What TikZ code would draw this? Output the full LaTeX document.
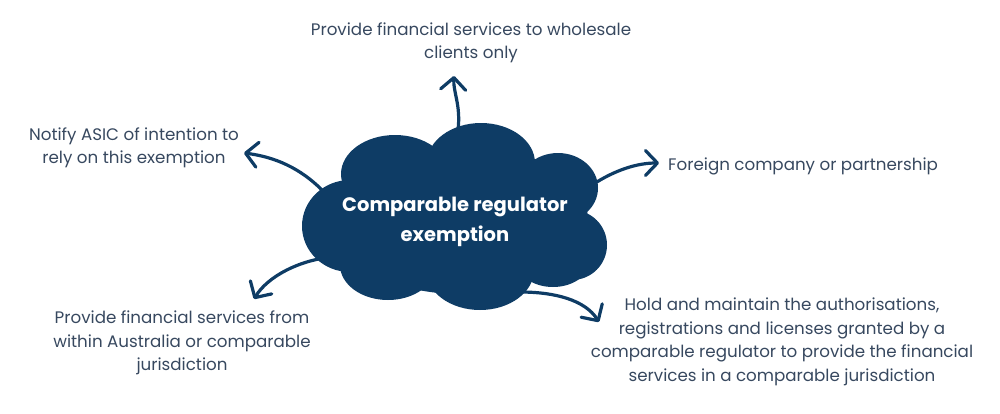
\documentclass[tikz,border=0pt]{standalone}
\usepackage{fontspec}
\setmainfont{Poppins}
\usetikzlibrary{arrows.meta}
\definecolor{navy}{RGB}{14,60,101}
\definecolor{txt}{RGB}{55,72,95}
\tikzset{
  lbl/.style={text=txt, align=center, font=\fontsize{16.7}{23.5}\selectfont, inner sep=0pt},
  arr/.style={draw=navy, line width=3.2pt, line cap=round,
    -{Straight Barb[length=12pt,width=25pt,round]}},
  lobe/.style={fill=navy}
}
\begin{document}
\begin{tikzpicture}[x=1pt,y=-1pt]
\useasboundingbox (0,0) rectangle (1000,413);
% arrow coordinates
\coordinate (s1) at (458,130);
\coordinate (e1) at (454,76);
\coordinate (s2) at (322,190);
\coordinate (e2) at (244,153);
\coordinate (s3) at (592,185);
\coordinate (e3) at (659,163);
\coordinate (s4) at (332,257);
\coordinate (e4) at (254,299);
\coordinate (s5) at (520,292);
\coordinate (e5) at (599,322);
\draw[arr] (s1) .. controls (461,105) and (453,92) .. (e1);
\draw[arr] (s2) .. controls (300,168) and (275,157) .. (e2);
\draw[arr] (s3) .. controls (615,170) and (637,163) .. (e3);
\draw[arr] (s4) .. controls (300,260) and (268,276) .. (e4);
\draw[arr] (s5) .. controls (555,292) and (585,300) .. (e5);
% cloud
\fill[lobe] (460,220) ellipse [x radius=128, y radius=74];
\fill[lobe] (395,174) ellipse [x radius=54, y radius=39];
\fill[lobe] (481,163) ellipse [x radius=54, y radius=40];
\fill[lobe] (558,188) ellipse [x radius=40, y radius=35];
\fill[lobe] (572,245) ellipse [x radius=35, y radius=35];
\fill[lobe] (553,260) ellipse [x radius=37, y radius=27];
\fill[lobe] (480,270) ellipse [x radius=54, y radius=40];
\fill[lobe] (388,265) ellipse [x radius=48, y radius=35];
\fill[lobe] (350,226) ellipse [x radius=48, y radius=46];
\node (cloud) [text=white, align=center, inner sep=0pt,
  font=\fontsize{19.5}{30}\selectfont\bfseries] at (455,222)
  {Comparable regulator\\exemption};
% labels
\node (t1) [lbl] at (471,43) {Provide financial services to wholesale\\clients only};
\node (t2) [lbl] at (134,148) {Notify ASIC of intention to\\rely on this exemption};
\node (t3) [lbl, anchor=west] at (668,166) {Foreign company or partnership};
\node (t4) [lbl] at (182,343) {Provide financial services from\\within Australia or comparable\\jurisdiction};
\node (t5) [lbl] at (782,342) {Hold and maintain the authorisations,\\registrations and licenses granted by a\\comparable regulator to provide the financial\\services in a comparable jurisdiction};
\end{tikzpicture}
\end{document}
